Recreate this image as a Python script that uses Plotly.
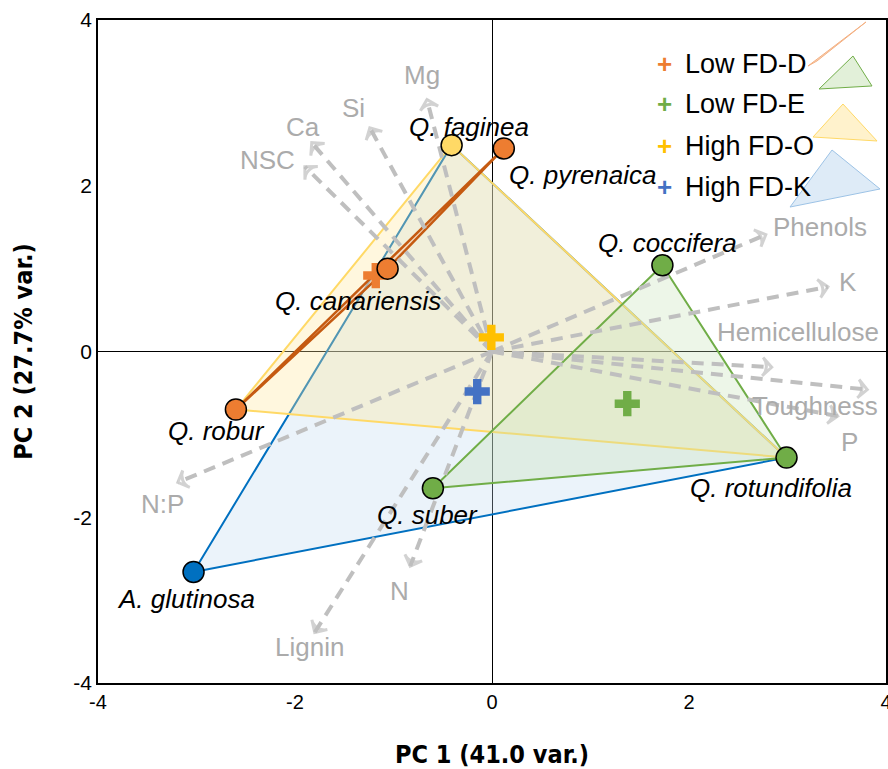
import plotly.graph_objects as go

# --- species scores on the first two principal components ---
species = ["Q. faginea", "Q. pyrenaica", "Q. canariensis", "Q. robur",
           "Q. coccifera", "Q. rotundifolia", "Q. suber", "A. glutinosa"]
pc1 = [-0.41, 0.12, -1.06, -2.60, 1.73, 2.99, -0.60, -3.03]
pc2 = [2.49, 2.45, 1.00, -0.70, 1.04, -1.28, -1.65, -2.66]

# --- trait loadings (arrow tips) ---
traits = ["Mg", "Si", "Ca", "NSC", "Phenols", "K", "Hemicellulose",
          "Toughness", "P", "N:P", "N", "Lignin"]
load1 = [-0.66, -1.24, -1.83, -1.90, 2.78, 3.41, 2.84, 3.81, 3.51, -3.19, -0.83, -1.80]
load2 = [3.04, 2.70, 2.52, 2.23, 1.41, 0.78, -0.19, -0.46, -0.78, -1.58, -2.59, -3.39]

# --- axis ticks ---
tick_vals = [-4, -2, 0, 2, 4]
tick_text = ["-4", "-2", "0", "2", "4"]

# --- functional-diversity groups (triangles) ---
groups = ["Low FD-D", "Low FD-E", "High FD-O", "High FD-K"]
group_members = {
    "Low FD-D": ["Q. pyrenaica", "Q. canariensis", "Q. robur"],
    "Low FD-E": ["Q. coccifera", "Q. rotundifolia", "Q. suber"],
    "High FD-O": ["Q. faginea", "Q. robur", "Q. rotundifolia"],
    "High FD-K": ["Q. faginea", "A. glutinosa", "Q. rotundifolia"],
}

# ---------------- styling ----------------
FONT = "Liberation Sans, Arial, sans-serif"
NARROW = "Liberation Sans Narrow, Arial Narrow, DejaVu Sans Condensed, sans-serif"
GREY_LINE = "#BFBFBF"
GREY_TEXT = "#ABABAB"

point_color = {
    "Q. faginea": "#FFD966", "Q. pyrenaica": "#ED7D31", "Q. canariensis": "#ED7D31",
    "Q. robur": "#ED7D31", "Q. coccifera": "#70AD47", "Q. rotundifolia": "#70AD47",
    "Q. suber": "#70AD47", "A. glutinosa": "#0070C0",
}
group_style = {
    "High FD-K": dict(line="#0070C0", fill="rgba(189,215,238,0.30)", width=2),
    "High FD-O": dict(line="#FFD966", fill="rgba(255,230,153,0.32)", width=2),
    "Low FD-E": dict(line="#70AD47", fill="rgba(197,224,180,0.30)", width=2),
    "Low FD-D": dict(line="#C55A11", fill="rgba(248,203,173,0.55)", width=2.5),
}
centroid_color = {"Low FD-D": "#ED7D31", "Low FD-E": "#70AD47",
                  "High FD-O": "#FFC000", "High FD-K": "#4472C4"}

# label offsets in pixels (dx, dy)
species_shift = {
    "Q. faginea": (17, 18), "Q. pyrenaica": (79, -27), "Q. canariensis": (-30, -32),
    "Q. robur": (-19, -21), "Q. coccifera": (5, 22), "Q. rotundifolia": (-16, -30),
    "Q. suber": (-5, -27), "A. glutinosa": (-8, -27),
}
trait_shift = {
    "Mg": (-5, 25), "Si": (-16, 20), "Ca": (-9, 16), "NSC": (-37, 7),
    "Phenols": (54, 8), "K": (20, 5), "Hemicellulose": (26, 35),
    "Toughness": (-52, -16), "P": (12, -26), "N:P": (-15, -22),
    "N": (-11, -25), "Lignin": (-5, -15),
}

fig = go.Figure()
idx = {s: i for i, s in enumerate(species)}

# group triangles
for g in ["High FD-K", "High FD-O", "Low FD-E", "Low FD-D"]:
    mem = group_members[g]
    xs = [pc1[idx[s]] for s in mem] + [pc1[idx[mem[0]]]]
    ys = [pc2[idx[s]] for s in mem] + [pc2[idx[mem[0]]]]
    st = group_style[g]
    fig.add_trace(go.Scatter(x=xs, y=ys, mode="lines", fill="toself",
                             fillcolor=st["fill"],
                             line=dict(color=st["line"], width=st["width"]),
                             hoverinfo="skip", showlegend=False))

# trait loading arrows
for t, a, b in zip(traits, load1, load2):
    fig.add_trace(go.Scatter(
        x=[0, a], y=[0, b], mode="lines+markers",
        line=dict(color=GREY_LINE, width=4, dash="12px,8px"),
        marker=dict(symbol=["circle", "arrow-wide-open"], size=[0, 13],
                    angleref="previous", color=GREY_LINE,
                    line=dict(color=GREY_LINE, width=3)),
        hoverinfo="skip", showlegend=False))
    dx, dy = trait_shift[t]
    fig.add_annotation(x=a, y=b, text=t, showarrow=False, xshift=dx, yshift=dy,
                       font=dict(family=FONT, size=26, color=GREY_TEXT))

# group centroids
for g in groups:
    mem = group_members[g]
    cx = sum(pc1[idx[s]] for s in mem) / len(mem)
    cy = sum(pc2[idx[s]] for s in mem) / len(mem)
    fig.add_trace(go.Scatter(x=[cx], y=[cy], mode="markers",
                             marker=dict(symbol="cross", size=21,
                                         color=centroid_color[g],
                                         line=dict(width=0)),
                             hoverinfo="skip", showlegend=False))

# species points
fig.add_trace(go.Scatter(
    x=pc1, y=pc2, mode="markers",
    marker=dict(size=21, color=[point_color[s] for s in species],
                line=dict(color="black", width=1.5)),
    hovertext=species, hoverinfo="text", showlegend=False))
for s in species:
    dx, dy = species_shift[s]
    fig.add_annotation(x=pc1[idx[s]], y=pc2[idx[s]], text="<i>%s</i>" % s,
                       showarrow=False, xshift=dx, yshift=dy,
                       font=dict(family=FONT, size=26, color="black"))

# custom legend: coloured plus, label and a small triangle swatch
def px(xp):
    return (xp - 98) / 788.0


def py(yp):
    return (683 - yp) / 663.0


legend_rows = [
    ("Low FD-D", 47, [(808, 66), (866, 22), (817, 61)],
     "rgba(244,177,131,0.55)", "#F4B183"),
    ("Low FD-E", 87, [(819, 89), (853, 56), (872, 86)],
     "rgba(226,240,217,1)", "#70AD47"),
    ("High FD-O", 129, [(813, 137), (843, 104), (877, 141)],
     "rgba(255,242,204,1)", "#FFD966"),
    ("High FD-K", 170, [(790, 207), (832, 150), (880, 189)],
     "rgba(222,235,247,1)", "#9DC3E6"),
]
for name, yrow, tri, fcol, lcol in legend_rows:
    fig.add_annotation(xref="paper", yref="paper", x=px(674), y=py(yrow),
                       text="<b>+</b>", showarrow=False,
                       font=dict(family=FONT, size=26, color=centroid_color[name]))
    fig.add_annotation(xref="paper", yref="paper", x=px(683), y=py(yrow),
                       xanchor="left", text=name, showarrow=False,
                       font=dict(family=FONT, size=27, color="black"))
    path = "M " + " L ".join("%.4f,%.4f" % (px(a), py(b)) for a, b in tri) + " Z"
    fig.add_shape(type="path", xref="paper", yref="paper", path=path,
                  fillcolor=fcol, line=dict(color=lcol, width=1))

axis_common = dict(range=[-4, 4], tickvals=tick_vals, ticktext=tick_text,
                   showgrid=False, zeroline=True, automargin=False,
                   zerolinecolor="black", zerolinewidth=1, showline=True,
                   mirror=True, linecolor="black", linewidth=1.5, ticks="")

fig.update_layout(
    width=888, height=769,
    margin=dict(l=98, r=2, t=20, b=86),
    paper_bgcolor="white", plot_bgcolor="white",
    showlegend=False,
    xaxis=dict(**axis_common, ticklabeloverflow="allow",
               tickfont=dict(family=FONT, size=20, color="black"),
               title=dict(text="<b>PC 1 (41.0 var.)</b>", standoff=34,
                          font=dict(family=NARROW, size=25, color="black"))),
    yaxis=dict(**axis_common,
               tickfont=dict(family=FONT, size=21, color="black"),
               title=dict(text="<b>PC 2 (27.7% var.)</b>", standoff=34,
                          font=dict(family=NARROW, size=25, color="black"))),
)

fig.write_html("out.html")
